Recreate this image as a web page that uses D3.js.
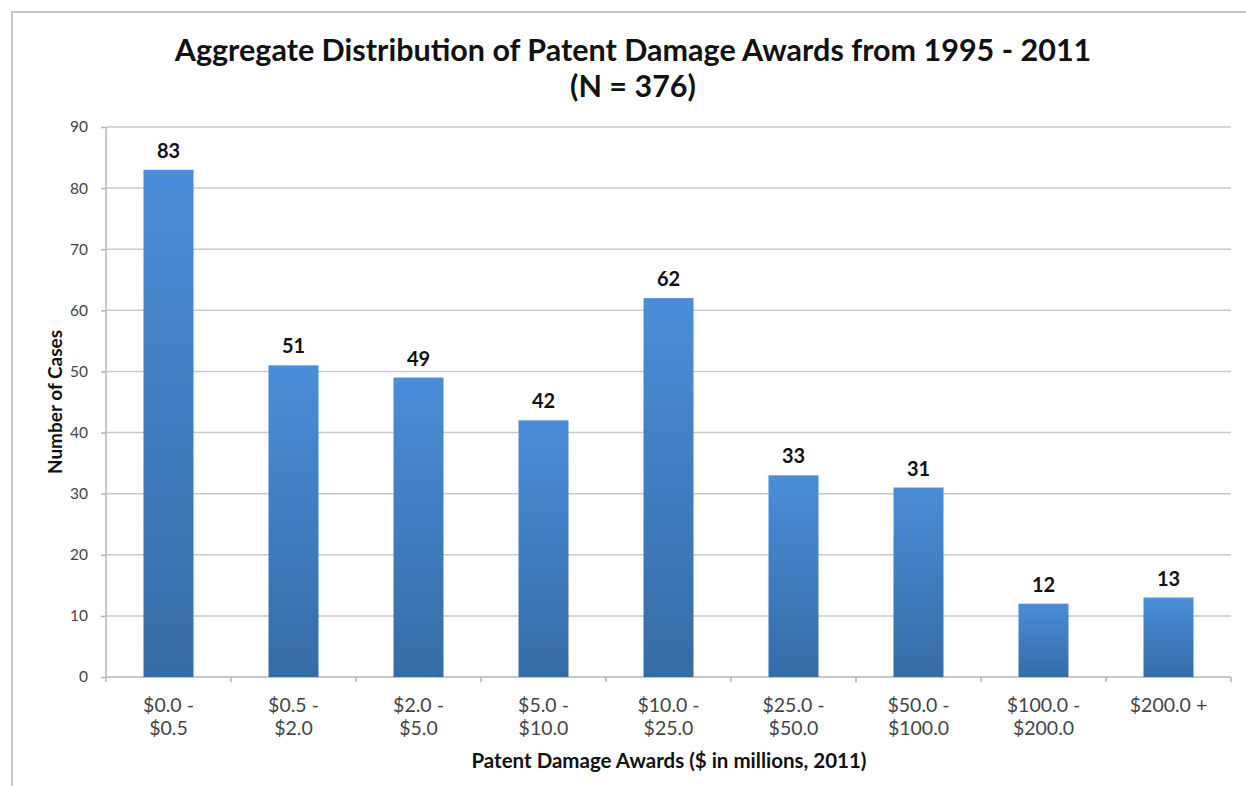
<!DOCTYPE html>
<html>
<head>
<meta charset="utf-8">
<script src="https://cdn.jsdelivr.net/npm/d3@7"></script>
<style>
  body { margin: 0; background: #fff; }
  svg { display: block; font-family: Lato, "Open Sans", sans-serif; }
</style>
</head>
<body>
<div id="canvas"></div>
<script>
// chart data
var categories = ["$0.0 -|$0.5", "$0.5 -|$2.0", "$2.0 -|$5.0", "$5.0 -|$10.0", "$10.0 -|$25.0",
  "$25.0 -|$50.0", "$50.0 -|$100.0", "$100.0 -|$200.0", "$200.0 +"];
var cases = [83, 51, 49, 42, 62, 33, 31, 12, 13];
var yTicks = [0, 10, 20, 30, 40, 50, 60, 70, 80, 90];

var W = 1246, H = 786;
var margin = {left: 106, right: 15, top: 127, bottom: 109};
var width = W - margin.left - margin.right;
var height = H - margin.top - margin.bottom;

var svg = d3.select("#canvas").append("svg")
  .attr("width", W)
  .attr("height", H);

// outer frame (cropped on right/bottom)
svg.append("path")
  .attr("d", "M12," + (H + 5) + " L12,12 L" + (W + 5) + ",12")
  .attr("fill", "none")
  .attr("stroke", "#c8c8c8")
  .attr("stroke-width", 2);

var defs = svg.append("defs");
var grad = defs.append("linearGradient")
  .attr("id", "barGrad")
  .attr("x1", 0).attr("y1", 0).attr("x2", 0).attr("y2", 1);
grad.append("stop").attr("offset", "0%").attr("stop-color", "#4a8dd8");
grad.append("stop").attr("offset", "100%").attr("stop-color", "#366ca6");

var g = svg.append("g")
  .attr("transform", "translate(" + margin.left + "," + margin.top + ")");

var x = d3.scaleBand()
  .domain(categories)
  .range([0, width])
  .paddingInner(0.6)
  .paddingOuter(0.3);

var y = d3.scaleLinear()
  .domain([0, 90])
  .range([height, 0]);

// gridlines
g.selectAll(".grid").data(yTicks.slice(1)).enter()
  .append("line")
  .attr("class", "grid")
  .attr("x1", 0)
  .attr("x2", width)
  .attr("y1", function(d) { return y(d); })
  .attr("y2", function(d) { return y(d); })
  .attr("stroke", "#c9c9c9")
  .attr("stroke-width", 1.5);

// y axis
var leftAxis = d3.axisLeft(y).tickValues(yTicks).tickSize(5).tickPadding(13);
var ya = g.append("g").attr("class", "y axis").call(leftAxis);
ya.select(".domain").attr("stroke", "#b5b5b5").attr("stroke-width", 1.5).attr("d", "M0," + height + "V0");
ya.selectAll(".tick line").attr("stroke", "#b5b5b5").attr("stroke-width", 1.5);
ya.selectAll("text").attr("font-size", "15.5px").attr("font-family", "Lato, sans-serif").attr("fill", "#444");

// x axis line with ticks between categories
var step = x.step();
g.append("line")
  .attr("x1", 0).attr("x2", width)
  .attr("y1", height).attr("y2", height)
  .attr("stroke", "#b5b5b5").attr("stroke-width", 1.5);
g.selectAll(".xtick").data(d3.range(categories.length + 1)).enter()
  .append("line")
  .attr("class", "xtick")
  .attr("x1", function(i) { return i === categories.length ? width : x(categories[0]) - step * 0.3 + i * step; })
  .attr("x2", function(i) { return i === categories.length ? width : x(categories[0]) - step * 0.3 + i * step; })
  .attr("y1", height).attr("y2", height + 5)
  .attr("stroke", "#b5b5b5").attr("stroke-width", 1.5);

// category labels
var lab = g.selectAll(".xlab").data(categories).enter()
  .append("text")
  .attr("class", "xlab")
  .attr("x", function(d) { return x(d) + x.bandwidth() / 2; })
  .attr("y", height + 35)
  .attr("text-anchor", "middle")
  .attr("font-size", "19.5px")
  .attr("fill", "#444");
lab.each(function(d) {
  var parts = d.split("|");
  var t = d3.select(this);
  parts.forEach(function(p, i) {
    t.append("tspan")
      .attr("x", x(d) + x.bandwidth() / 2)
      .attr("dy", i === 0 ? 0 : 23)
      .text(p);
  });
});

// bars
g.selectAll("rect.bar").data(cases).enter()
  .append("rect")
  .attr("class", "bar")
  .attr("x", function(d, i) { return x(categories[i]); })
  .attr("y", function(d) { return y(d); })
  .attr("width", x.bandwidth())
  .attr("height", function(d) { return height - y(d); })
  .attr("fill", "url(#barGrad)");

// value labels
g.selectAll(".val").data(cases).enter()
  .append("text")
  .attr("class", "val")
  .attr("x", function(d, i) { return x(categories[i]) + x.bandwidth() / 2; })
  .attr("y", function(d) { return y(d) - 12; })
  .attr("text-anchor", "middle")
  .attr("font-size", "20px")
  .attr("font-weight", "bold")
  .attr("fill", "#111")
  .text(function(d) { return d; });

// title
svg.append("text")
  .attr("x", 633).attr("y", 61)
  .attr("text-anchor", "middle")
  .attr("font-size", "30.5px")
  .attr("font-weight", "bold")
  .attr("fill", "#111")
  .text("Aggregate Distribution of Patent Damage Awards from 1995 - 2011");
svg.append("text")
  .attr("x", 633).attr("y", 97)
  .attr("text-anchor", "middle")
  .attr("font-size", "30.5px")
  .attr("font-weight", "bold")
  .attr("fill", "#111")
  .text("(N = 376)");

// X label
svg.append("text")
  .attr("x", 669)
  .attr("y", 768)
  .attr("text-anchor", "middle")
  .attr("font-size", "20.5px")
  .attr("font-weight", "bold")
  .attr("fill", "#111")
  .text("Patent Damage Awards ($ in millions, 2011)");

// Y label
svg.append("text")
  .attr("transform", "rotate(-90)")
  .attr("x", -402)
  .attr("y", 62)
  .attr("text-anchor", "middle")
  .attr("font-size", "19px")
  .attr("font-weight", "bold")
  .attr("fill", "#111")
  .text("Number of Cases");
</script>
</body>
</html>
